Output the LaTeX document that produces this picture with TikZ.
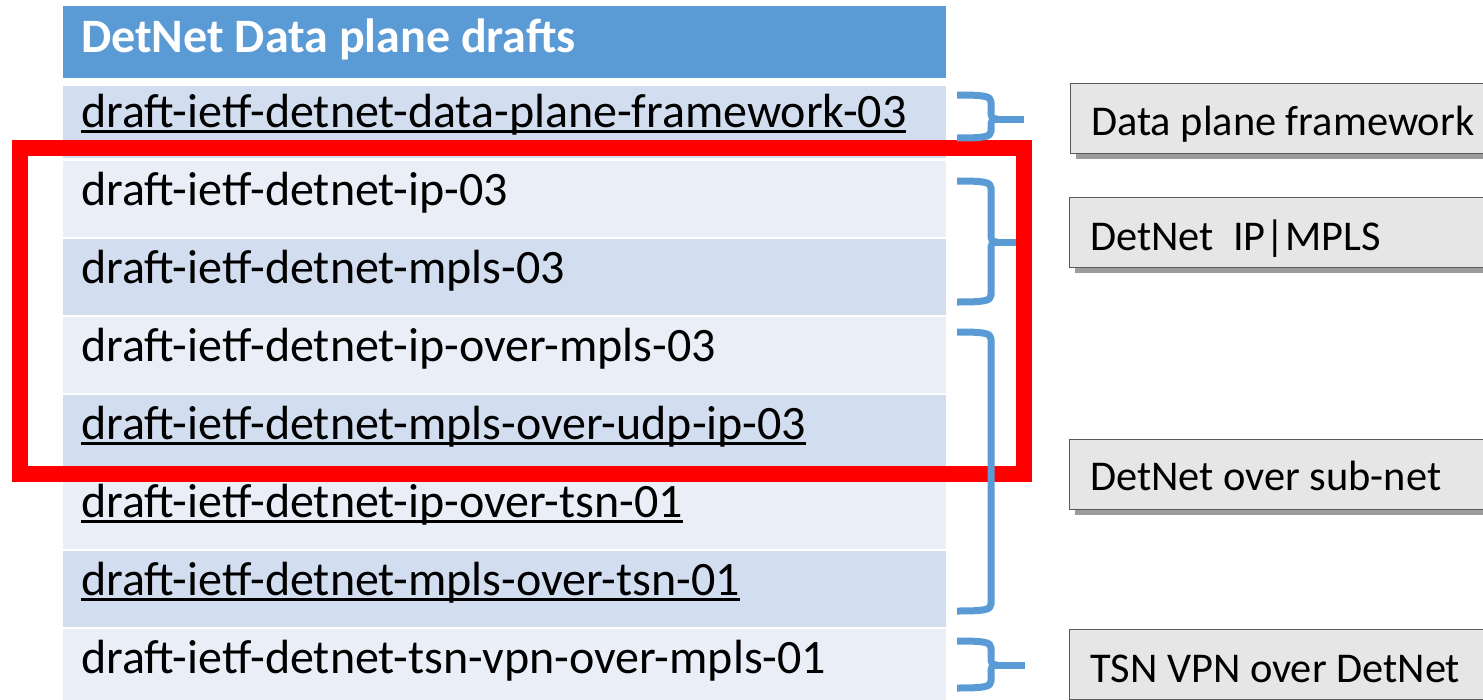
\documentclass[tikz,border=0pt]{standalone}
\usepackage{fontspec}
\setmainfont{Carlito}
\usetikzlibrary{shadows}
\definecolor{hdr}{HTML}{5B9BD5}
\definecolor{rowdark}{HTML}{D2DEEF}
\definecolor{rowlight}{HTML}{EAEFF7}
\definecolor{bracecol}{HTML}{5B9BD5}
\definecolor{boxfill}{HTML}{E6E6E6}
\definecolor{boxline}{HTML}{595959}
\definecolor{shadowcol}{HTML}{9C9C9C}
\newsavebox\ulbox
\newcommand\myul[1]{\sbox\ulbox{#1}\rlap{\rule[-5.6pt]{\wd\ulbox}{2.3pt}}\usebox\ulbox}
\newcommand\mybrace[4]{%
  \draw[brace] (957,#1) .. controls (984,#1) and (991,{#1+1}) .. (991,{#1+7})
    -- (991,{#2-7}) .. controls (991,{#2-2}) and (992,#2) .. (997,#2)
    .. controls (992,#2) and (991,{#2+2}) .. (991,{#2+7})
    -- (991,{#3-7}) .. controls (991,{#3-1}) and (984,#3) .. (957,#3);
  \draw[brace] (993,#2) -- (#4,#2);}
\tikzset{
  rowbox/.style={anchor=north west, minimum width=883pt, minimum height=76pt, inner sep=0pt, draw=none},
  rowtxt/.style={anchor=base west, inner sep=0pt, font=\fontsize{48}{57}\selectfont, text=black},
  hdrtxt/.style={anchor=base west, inner sep=0pt, font=\fontsize{48}{57}\selectfont\bfseries, text=white},
  gbox/.style={anchor=north west, minimum width=460pt, minimum height=70pt, inner sep=0pt,
    fill=boxfill, draw=boxline, line width=1.3pt,
    drop shadow={shadow xshift=5pt, shadow yshift=-5pt, fill=shadowcol, opacity=1}},
  boxtxt/.style={anchor=base west, inner sep=0pt, font=\fontsize{42.4}{50}\selectfont, text=black},
  brace/.style={draw=bracecol, line width=7pt, line join=round, line cap=butt},
  redframe/.style={draw=red, line width=15.5pt}
}
\begin{document}
\begin{tikzpicture}[x=1pt,y=-1pt]
\useasboundingbox (0,0) rectangle (1483,699);
\clip (0,0) rectangle (1483,699);
% table
\node[rowbox, fill=hdr, minimum height=72pt] (h) at (63,6) {};
\node[rowbox, fill=rowdark, minimum height=72pt] (r1) at (63,86) {};
\node[rowbox, fill=rowlight] (r2) at (63,161) {};
\node[rowbox, fill=rowdark] (r3) at (63,239) {};
\node[rowbox, fill=rowlight] (r4) at (63,317) {};
\node[rowbox, fill=rowdark] (r5) at (63,395) {};
\node[rowbox, fill=rowlight] (r6) at (63,473) {};
\node[rowbox, fill=rowdark] (r7) at (63,551) {};
\node[rowbox, fill=rowlight] (r8) at (63,629) {};
\node[hdrtxt] (th) at (81,52) {DetNet Data plane drafts};
\node[rowtxt] (t1) at (81,127) {\myul{draft-ietf-detnet-data-plane-framework-03}};
\node[rowtxt] (t2) at (81,205) {draft-ietf-detnet-ip-03};
\node[rowtxt] (t3) at (81,283) {draft-ietf-detnet-mpls-03};
\node[rowtxt] (t4) at (81,361) {draft-ietf-detnet-ip-over-mpls-03};
\node[rowtxt] (t5) at (81,439) {\myul{draft-ietf-detnet-mpls-over-udp-ip-03}};
\node[rowtxt] (t6) at (81,517) {\myul{draft-ietf-detnet-ip-over-tsn-01}};
\node[rowtxt] (t7) at (81,595) {\myul{draft-ietf-detnet-mpls-over-tsn-01}};
\node[rowtxt] (t8) at (81,673) {draft-ietf-detnet-tsn-vpn-over-mpls-01};
% red frame
\draw[redframe] (20,148) rectangle (1024,474);
% braces
\mybrace{95}{119}{138}{1024}
\mybrace{181}{242}{302}{1016}
\draw[brace] (957,332) .. controls (984,332) and (991,333) .. (991,339)
  -- (991,604) .. controls (991,610) and (984,611) .. (957,611);
\mybrace{641}{665}{688}{1025}
% boxes
\node[gbox] (b1) at (1070,83) {};
\node[gbox] (b2) at (1069,197) {};
\node[gbox] (b3) at (1069,439) {};
\node[gbox] (b4) at (1069,629) {};
\node[boxtxt] (l1) at (1091,135) {Data plane framework};
\node[boxtxt] (l2) at (1090,250) {DetNet\ \ IP|MPLS};
\node[boxtxt] (l3) at (1090,490) {DetNet over sub-net};
\node[boxtxt] (l4) at (1090,682) {TSN VPN over DetNet};
\end{tikzpicture}
\end{document}
